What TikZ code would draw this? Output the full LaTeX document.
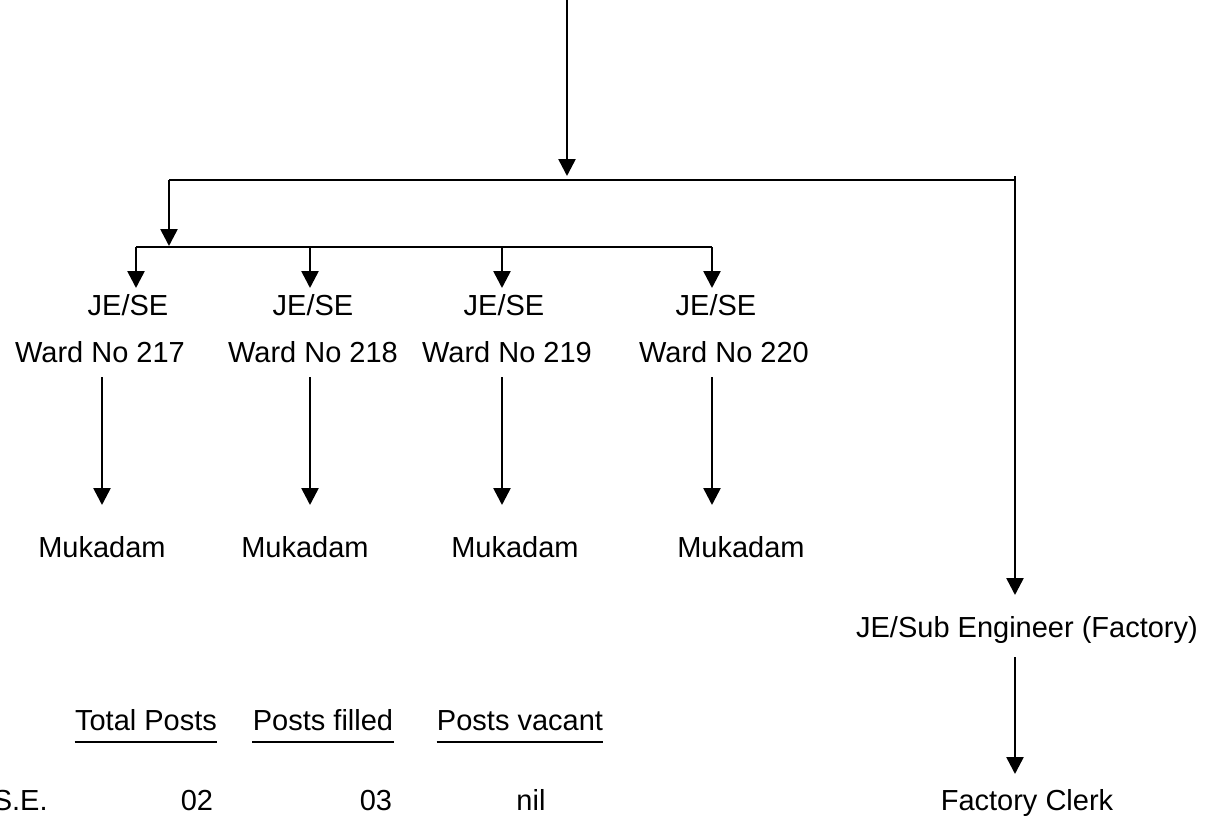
\documentclass[tikz,border=0pt]{standalone}
\usepackage{fontspec}
\setmainfont{Liberation Sans}
\usetikzlibrary{arrows.meta}
\begin{document}
\begin{tikzpicture}[x=0.5pt,y=-0.5pt,
  conn/.style={line width=1.3pt},
  arr/.style={conn,-{Triangle[width=8.5pt,length=8.5pt]}},
  lbl/.style={inner sep=0pt,anchor=base,font=\fontsize{14.5}{17}\selectfont},
  uline/.style={line width=1pt}
]
\useasboundingbox (0,0) rectangle (1207,820);

% ---- labels
\node[lbl] (je1) at (128,315) {JE/SE};
\node[lbl] (je2) at (313,315) {JE/SE};
\node[lbl] (je3) at (504,315) {JE/SE};
\node[lbl] (je4) at (716,315) {JE/SE};
\node[lbl] (w1) at (100,362) {Ward No 217};
\node[lbl] (w2) at (313,362) {Ward No 218};
\node[lbl] (w3) at (507,362) {Ward No 219};
\node[lbl] (w4) at (724,362) {Ward No 220};
\node[lbl] (m1) at (102,557) {Mukadam};
\node[lbl] (m2) at (305,557) {Mukadam};
\node[lbl] (m3) at (515,557) {Mukadam};
\node[lbl] (m4) at (741,557) {Mukadam};
\node[lbl] (jsub) at (1027,637) {JE/Sub Engineer (Factory)};
\node[lbl] (fc) at (1027,810) {Factory Clerk};

% ---- table
\node[lbl] (h1) at (146,730) {Total Posts};
\node[lbl] (h2) at (323,730) {Posts filled};
\node[lbl] (h3) at (520,730) {Posts vacant};
\draw[uline] ([yshift=-6pt]h1.base west) -- ([yshift=-6pt]h1.base east);
\draw[uline] ([yshift=-6pt]h2.base west) -- ([yshift=-6pt]h2.base east);
\draw[uline] ([yshift=-6pt]h3.base west) -- ([yshift=-6pt]h3.base east);
\node[lbl,anchor=base east] (se) at (48,810) {S.E.};
\node[lbl] (v1) at (197,810) {02};
\node[lbl] (v2) at (376,810) {03};
\node[lbl] (v3) at (531,810) {nil};

% ---- connector points
\coordinate (top) at (567,0);
\coordinate (topend) at (567,176);
\coordinate (l1L) at (169,180);
\coordinate (l1R) at (1015,180);
\coordinate (l2end) at (169,246);
\coordinate (l2L) at (136,247);
\coordinate (l2b) at (310,247);
\coordinate (l2c) at (502,247);
\coordinate (l2R) at (712,247);
\coordinate (t1) at (136,288);
\coordinate (t2) at (310,288);
\coordinate (t3) at (502,288);
\coordinate (t4) at (712,288);
\foreach \i/\x in {1/102,2/310,3/502,4/712}{
  \coordinate (as\i) at (\x,377);
  \coordinate (ae\i) at (\x,505);
}
\coordinate (rtop) at (1015,176);
\coordinate (rend) at (1015,595);
\coordinate (fs) at (1015,657);
\coordinate (fe) at (1015,774);

% ---- connectors
\draw[arr] (top) -- (topend);
\draw[conn] (l1R) -- (l1L);
\draw[arr] (l1L) -- (l2end);
\draw[conn] (l2L) -- (l2R);
\draw[arr] (l2L) -- (t1);
\draw[arr] (l2b) -- (t2);
\draw[arr] (l2c) -- (t3);
\draw[arr] (l2R) -- (t4);
\foreach \i in {1,...,4}{\draw[arr] (as\i) -- (ae\i);}
\draw[arr] (rtop) -- (rend);
\draw[arr] (fs) -- (fe);
\end{tikzpicture}
\end{document}
